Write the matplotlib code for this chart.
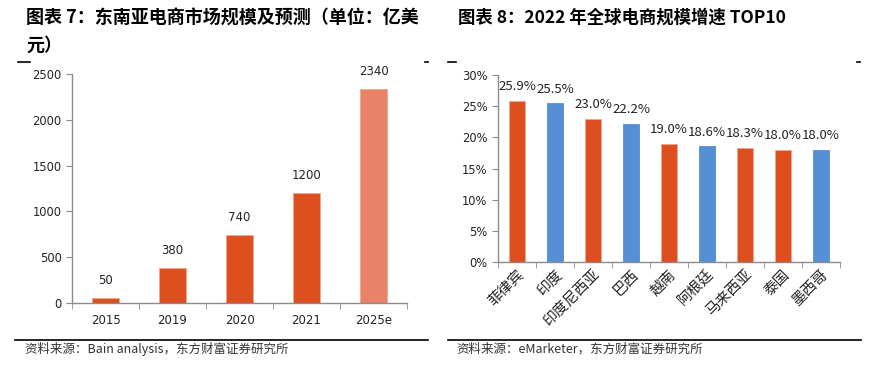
import matplotlib
matplotlib.use("Agg")
import matplotlib.pyplot as plt
from matplotlib.lines import Line2D
from matplotlib.ticker import FuncFormatter

plt.rcParams['font.family'] = ['Noto Sans CJK SC', 'DejaVu Sans']

# left chart data
years = ['2015', '2019', '2020', '2021', '2025e']
market = [50, 380, 740, 1200, 2340]
market_colors = ['#DD4F1F', '#DD4F1F', '#DD4F1F', '#DD4F1F', '#E8836A']

# right chart data
countries = ['菲律宾', '印度', '印度尼西亚', '巴西', '越南', '阿根廷', '马来西亚', '泰国', '墨西哥']
growth = [25.9, 25.5, 23.0, 22.2, 19.0, 18.6, 18.3, 18.0, 18.0]
growth_colors = ['#DD4F1F', '#558ED5', '#DD4F1F', '#558ED5', '#DD4F1F',
                 '#558ED5', '#DD4F1F', '#DD4F1F', '#558ED5']

fig = plt.figure(figsize=(8.72, 3.65), dpi=100)
W, H = 872, 365

def px(x, y):
    return x / W, 1 - y / H

def hline(x0, x1, y, lw=1.2):
    fig.add_artist(Line2D([x0 / W, x1 / W], [1 - y / H, 1 - y / H],
                          transform=fig.transFigure, color='black', lw=lw))

grey = '#8C8C8C'

def style_axes(ax):
    for s in ['top', 'right']:
        ax.spines[s].set_visible(False)
    for s in ['left', 'bottom']:
        ax.spines[s].set_color(grey)
        ax.spines[s].set_linewidth(1.0)
    ax.tick_params(axis='y', colors=grey, labelcolor='#222222', length=4, labelsize=8.3)
    ax.tick_params(axis='x', which='major', length=0, labelcolor='#222222')
    ax.tick_params(axis='x', which='minor', colors=grey, length=4)

# ---- left chart ----
ax1 = fig.add_axes([72 / W, 1 - 303 / H, (407 - 72) / W, (303 - 74) / H])
x1 = range(len(years))
ax1.bar(x1, market, width=0.4, color=market_colors, edgecolor='#F2A58E', linewidth=0.6)
for i, v in enumerate(market):
    ax1.text(i, v + 120, str(v), ha='center', va='bottom', fontsize=8.5,
             family='DejaVu Sans', color='#222222')
ax1.set_xlim(-0.5, len(years) - 0.5)
ax1.set_ylim(0, 2500)
ax1.set_yticks([0, 500, 1000, 1500, 2000, 2500])
ax1.set_xticks(list(x1))
ax1.set_xticklabels(years, fontsize=8.5, family='DejaVu Sans')
ax1.set_xticks([i - 0.5 for i in range(len(years) + 1)], minor=True)
style_axes(ax1)
for lab in ax1.get_yticklabels():
    lab.set_family('DejaVu Sans')
ax1.tick_params(axis='x', pad=8)

# ---- right chart ----
ax2 = fig.add_axes([498 / W, 1 - 262 / H, (840 - 498) / W, (262 - 75) / H])
x2 = range(len(countries))
ax2.bar(x2, growth, width=0.42, color=growth_colors,
        edgecolor=['#F2A58E' if c == '#DD4F1F' else '#558ED5' for c in growth_colors],
        linewidth=0.6)
for i, v in enumerate(growth):
    ax2.text(i, v + 1.2, f'{v:.1f}%', ha='center', va='bottom', fontsize=9.5, color='#222222')
ax2.set_xlim(-0.5, len(countries) - 0.5)
ax2.set_ylim(0, 30)
ax2.set_yticks(range(0, 31, 5))
ax2.yaxis.set_major_formatter(FuncFormatter(lambda v, p: f'{v:.0f}%'))
ax2.set_xticks(list(x2))
ax2.set_xticklabels(countries, rotation=45, ha='right', rotation_mode='anchor', fontsize=10.5)
ax2.set_xticks([i - 0.5 for i in range(len(countries) + 1)], minor=True)
style_axes(ax2)
for lab in ax2.get_yticklabels():
    lab.set_family('DejaVu Sans')
ax2.tick_params(axis='x', pad=4)

# ---- titles ----
fig.text(*px(26, 18), '图表 7：东南亚电商市场规模及预测（单位：亿美', fontsize=13,
         fontweight='bold', va='center', ha='left')
fig.text(*px(26, 45), '元）', fontsize=13, fontweight='bold', va='center', ha='left')
fig.text(*px(458, 18), '图表 8：2022 年全球电商规模增速 TOP10', fontsize=12.5,
         fontweight='bold', va='center', ha='left')

# decorative line fragments
hline(18, 30, 62)
hline(425, 428, 62)
hline(448, 456, 62)
hline(857, 860, 62)

# bottom rules and sources
hline(15, 428, 340)
hline(448, 861, 340)
fig.text(*px(25, 349), '资料来源：Bain analysis，东方财富证券研究所', fontsize=9,
         va='center', ha='left', color='#333333')
fig.text(*px(456, 349), '资料来源：eMarketer，东方财富证券研究所', fontsize=9,
         va='center', ha='left', color='#333333')

fig.savefig('out.png', dpi=100)
